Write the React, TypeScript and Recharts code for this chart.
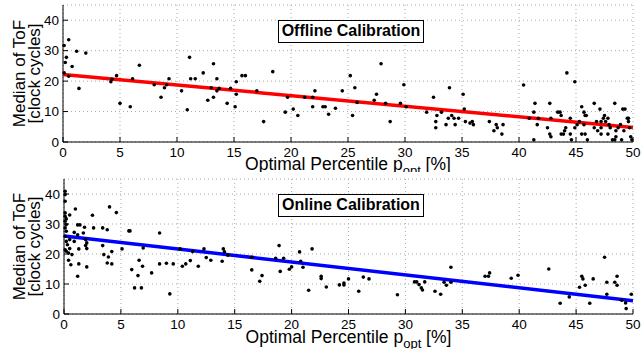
// Median ToF vs. optimal percentile — offline and online calibration,
// two stacked scatter panels with a fitted line each.
import {
  ScatterChart,
  Scatter,
  XAxis,
  YAxis,
  CartesianGrid,
  Label,
} from "recharts";

const FONT = "'Liberation Sans', Arial, Helvetica, sans-serif";

const xTicks = [0, 5, 10, 15, 20, 25, 30, 35, 40, 45, 50];
const yTicks = [0, 10, 20, 30, 40];

// offline calibration points
const offlineX = [
  0.1, 0.5, 0.2, 0.3, 0.1, 0.5, 0.8, 1.2, 1.4, 2.0, 4.2, 4.3, 4.7, 5.0, 5.9, 6.1, 6.7, 8.0, 8.6, 8.9,
  9.1, 9.3, 10.4, 10.9, 11.1, 11.2, 11.6, 12.3, 12.7, 13.0, 13.2, 13.2, 13.5, 13.5, 13.7, 14.4, 14.7, 15.1, 15.2, 15.2,
  15.7, 16.0, 17.0, 17.6, 18.4, 19.5, 19.7, 20.2, 20.6, 21.2, 21.9, 21.9, 22.1, 22.8, 23.0, 23.3, 23.9, 24.5, 25.2, 25.4,
  25.6, 25.8, 27.3, 27.5, 27.9, 28.3, 28.7, 29.6, 29.9, 30.1, 31.9, 32.5, 32.7, 32.7, 32.8, 33.2, 33.6, 33.8, 33.9, 34.1,
  34.3, 34.4, 34.7, 35.1, 35.2, 35.3, 35.7, 35.9, 36.0, 37.4, 37.8, 38.0, 38.1, 38.5, 38.6, 40.4, 40.9, 41.3, 41.3, 41.4,
  41.7, 41.6, 42.5, 42.7, 42.8, 42.7, 42.8, 43.4, 43.6, 43.7, 43.7, 43.9, 44.0, 44.1, 44.2, 44.5, 44.5, 44.6, 44.9, 44.9,
  45.1, 45.3, 45.5, 45.5, 45.7, 45.7, 45.8, 45.9, 45.8, 46.0, 46.6, 46.6, 46.8, 46.9, 47.1, 47.2, 47.2, 47.2, 47.4, 47.5,
  47.6, 47.8, 47.8, 47.9, 48.0, 48.2, 48.4, 48.4, 48.5, 48.5, 48.7, 48.9, 49.0, 49.1, 49.2, 49.3, 49.5, 49.6, 49.6, 49.7,
  49.8, 49.9,
];
const offlineY = [
  31.7, 33.6, 26.1, 27.8, 22.7, 21.6, 24.8, 29.8, 17.6, 29.2, 19.8, 20.6, 21.8, 12.7, 11.6, 20.8, 25.2, 18.8, 14.7, 17.8,
  18.8, 20.8, 16.8, 10.6, 27.8, 20.8, 20.8, 22.7, 13.7, 17.8, 25.7, 14.7, 20.8, 16.8, 17.6, 12.7, 17.6, 11.6, 19.8, 15.7,
  21.8, 21.8, 16.8, 6.7, 23.1, 9.8, 14.7, 10.8, 8.7, 14.7, 14.7, 11.6, 16.8, 11.6, 11.6, 9.1, 11.1, 16.8, 21.8, 8.7,
  17.8, 13.0, 13.7, 15.7, 25.7, 12.7, 6.7, 12.7, 18.8, 11.6, 9.8, 14.7, 6.7, 4.7, 8.7, 9.8, 5.7, 7.8, 17.8, 8.7,
  7.8, 5.7, 7.8, 15.7, 10.8, 6.7, 6.2, 6.7, 5.7, 6.7, 3.7, 5.7, 4.7, 2.6, 5.7, 18.7, 7.8, 0.7, 9.8, 12.7,
  7.8, 5.7, 4.7, 12.7, 7.8, 2.6, 1.7, 9.8, 9.8, 8.7, 2.6, 2.6, 3.7, 4.7, 22.7, 7.8, 2.6, 0.7, 19.8, 4.7,
  5.7, 6.7, 11.6, 2.6, 9.8, 5.7, 8.7, 8.7, 2.6, 0.7, 12.7, 4.7, 6.7, 3.7, 10.8, 2.6, 4.7, 6.7, 7.8, 8.7,
  6.7, 2.6, 7.8, 5.7, 4.7, 0.7, 12.7, 0.7, 3.7, 1.7, 4.7, 5.7, 0.7, 10.8, 3.7, 10.8, 7.8, 6.7, 7.8, 4.7,
  1.7, 0.7,
];

// online calibration points
const onlineX = [
  0.1, 0.1, 0.1, 0.1, 0.1, 0.2, 0.1, 0.2, 0.1, 0.2, 0.1, 0.2, 0.1, 0.2, 0.3, 0.4, 0.5, 0.5, 0.5, 0.4,
  0.6, 0.7, 0.9, 1.0, 0.9, 1.2, 1.4, 1.2, 1.2, 1.3, 1.3, 1.7, 1.8, 1.9, 1.9, 2.0, 2.0, 2.0, 2.5, 2.6,
  3.4, 3.4, 3.5, 3.8, 3.8, 4.0, 3.9, 4.2, 4.2, 4.6, 5.1, 5.7, 5.8, 5.95, 6.2, 6.5, 6.6, 6.8, 6.9, 6.96,
  7.7, 8.4, 8.4, 9.0, 9.3, 9.6, 10.2, 10.4, 10.7, 11.1, 11.3, 11.8, 12.3, 12.5, 12.9, 13.9, 14.0, 14.1, 14.4, 16.5,
  16.5, 17.2, 17.4, 18.6, 18.9, 19.0, 19.3, 19.8, 20.0, 20.7, 20.8, 21.0, 21.5, 21.8, 22.6, 22.6, 23.05, 24.2, 24.6, 24.6,
  25.0, 25.9, 26.3, 26.8, 29.3, 30.8, 31.0, 31.2, 31.4, 31.5, 31.7, 32.6, 33.1, 33.4, 33.6, 34.0, 34.0, 37.0, 37.3, 37.4,
  39.3, 39.9, 42.6, 43.6, 44.4, 45.3, 45.5, 45.6, 45.8, 46.2, 46.5, 47.5, 47.7, 47.7, 48.4, 48.6, 48.6, 49.0, 49.35, 49.4,
  49.85,
];
const onlineY = [
  40.9, 39.8, 37.6, 33.7, 32.6, 31.7, 30.9, 29.8, 28.7, 27.6, 25.9, 24.2, 21.4, 20.9, 23.1, 20.3, 21.8, 24.8, 33.0, 17.9,
  16.4, 19.8, 27.2, 35.0, 24.2, 29.7, 29.7, 26.4, 12.6, 16.7, 21.7, 27.0, 28.9, 24.8, 22.8, 23.7, 21.8, 15.7, 32.9, 28.7,
  28.7, 22.8, 19.8, 17.0, 28.1, 35.7, 19.0, 20.8, 16.7, 33.8, 21.7, 27.7, 27.7, 14.8, 8.7, 12.8, 17.9, 8.7, 15.9, 22.0,
  13.7, 27.0, 16.7, 16.9, 6.7, 16.7, 21.7, 15.9, 16.7, 17.8, 20.8, 15.9, 21.7, 18.8, 17.9, 17.6, 21.7, 20.7, 19.6, 18.9,
  14.7, 10.9, 12.8, 18.6, 22.8, 14.2, 18.6, 14.9, 15.7, 20.7, 17.6, 15.6, 7.9, 21.7, 12.6, 11.8, 9.0, 9.7, 10.3, 9.7,
  11.7, 7.6, 12.3, 11.7, 6.4, 10.7, 10.7, 9.8, 8.7, 8.0, 10.7, 7.6, 6.6, 10.6, 9.6, 15.6, 10.6, 12.6, 12.6, 13.7,
  11.9, 12.9, 15.0, 3.6, 5.7, 8.9, 12.6, 11.7, 9.6, 3.6, 11.7, 18.9, 6.6, 10.6, 10.6, 12.6, 9.6, 4.6, 3.7, 1.8,
  6.6,
];

// fitted lines (end points)
const fitX = [0, 50];
const offlineFitY = [22.2, 4.8];
const onlineFitY = [26.0, 4.4];

const toPoints = (xs: number[], ys: number[]) => xs.map((x, i) => ({ x, y: ys[i] }));

const Dot = (p: any) => <circle cx={p.cx} cy={p.cy} r={1.8} fill="#000" />;
const NoDot = () => <g />;
const NoTick = () => <g />;

const XLabel = (props: any) => {
  const vb = props.viewBox;
  const cx = vb.x + vb.width / 2;
  return (
    <text x={cx} y={vb.y + props.dyBase} textAnchor="middle" fontSize={17.5} fontFamily={FONT} fill="#000">
      Optimal Percentile p
      <tspan fontSize={13} dy={5}>opt</tspan>
      <tspan dy={-5}> [%]</tspan>
    </text>
  );
};

const YLabel = (props: any) => {
  const vb = props.viewBox;
  const cy = vb.y + vb.height / 2;
  return (
    <g fontSize={17} fontFamily={FONT} fill="#000">
      <text x={25} y={cy} textAnchor="middle" transform={`rotate(-90, 25, ${cy})`}>
        Median of ToF
      </text>
      <text x={40} y={cy} textAnchor="middle" transform={`rotate(-90, 40, ${cy})`}>
        [clock cycles]
      </text>
    </g>
  );
};

function Panel({
  pts,
  fit,
  color,
  height,
  top,
  yAxisWidth,
  xAxisHeight,
  labelDy,
}: {
  pts: { x: number; y: number }[];
  fit: { x: number; y: number }[];
  color: string;
  height: number;
  top: number;
  yAxisWidth: number;
  xAxisHeight: number;
  labelDy: number;
}) {
  const tickStyle = { fontSize: 13.5, fill: "#000", fontFamily: FONT };
  const axisStroke = { stroke: "#000", strokeWidth: 1 };
  return (
    <ScatterChart width={641} height={height} margin={{ top, right: 8, bottom: 0, left: 0 }}>
      <CartesianGrid strokeDasharray="1 3" stroke="#a8a8a8" />
      <XAxis
        type="number"
        dataKey="x"
        domain={[0, 50]}
        ticks={xTicks}
        height={xAxisHeight}
        tick={tickStyle}
        tickSize={-5}
        tickMargin={10.5}
        axisLine={axisStroke}
        tickLine={axisStroke}
        interval={0}
      >
        <Label content={(p: any) => <XLabel {...p} dyBase={labelDy} />} />
      </XAxis>
      <XAxis
        xAxisId="top"
        orientation="top"
        type="number"
        dataKey="x"
        domain={[0, 50]}
        ticks={xTicks}
        height={0}
        tick={NoTick}
        tickSize={-5}
        axisLine={axisStroke}
        tickLine={axisStroke}
        interval={0}
      />
      <YAxis
        type="number"
        dataKey="y"
        domain={[0, 45]}
        ticks={yTicks}
        width={yAxisWidth}
        tick={tickStyle}
        tickSize={-5}
        tickMargin={9}
        axisLine={axisStroke}
        tickLine={axisStroke}
        interval={0}
      >
        <Label content={(p: any) => <YLabel {...p} />} />
      </YAxis>
      <YAxis
        yAxisId="right"
        orientation="right"
        type="number"
        dataKey="y"
        domain={[0, 45]}
        ticks={yTicks}
        width={0}
        tick={NoTick}
        tickSize={-5}
        axisLine={axisStroke}
        tickLine={axisStroke}
        interval={0}
      />
      <Scatter
        data={fit}
        line={{ stroke: color, strokeWidth: 3.5 }}
        shape={NoDot}
        isAnimationActive={false}
      />
      <Scatter data={pts} shape={Dot} isAnimationActive={false} />
    </ScatterChart>
  );
}

const boxStyle = {
  position: "absolute" as const,
  left: 278,
  width: 146,
  height: 23,
  boxSizing: "border-box" as const,
  border: "1.5px solid #000",
  background: "#fff",
  fontFamily: FONT,
  fontWeight: 700,
  fontSize: 16,
  lineHeight: "20px",
  textAlign: "center" as const,
  color: "#000",
};

export default function App() {
  return (
    <div style={{ position: "absolute", left: 0, top: 0, width: 641, height: 349, background: "#fff" }}>
      <div style={{ position: "absolute", left: 0, top: 0 }}>
        <Panel
          pts={toPoints(offlineX, offlineY)}
          fit={toPoints(fitX, offlineFitY)}
          color="#ff0000"
          height={172}
          top={5}
          yAxisWidth={63}
          xAxisHeight={30}
          labelDy={27.5}
        />
      </div>
      <div style={{ position: "absolute", left: 0, top: 172 }}>
        <Panel
          pts={toPoints(onlineX, onlineY)}
          fit={toPoints(fitX, onlineFitY)}
          color="#0000ff"
          height={177}
          top={7}
          yAxisWidth={64}
          xAxisHeight={35}
          labelDy={28.5}
        />
      </div>
      <div style={{ ...boxStyle, top: 19.5 }}>Offline Calibration</div>
      <div style={{ ...boxStyle, top: 193.5 }}>Online Calibration</div>
    </div>
  );
}
